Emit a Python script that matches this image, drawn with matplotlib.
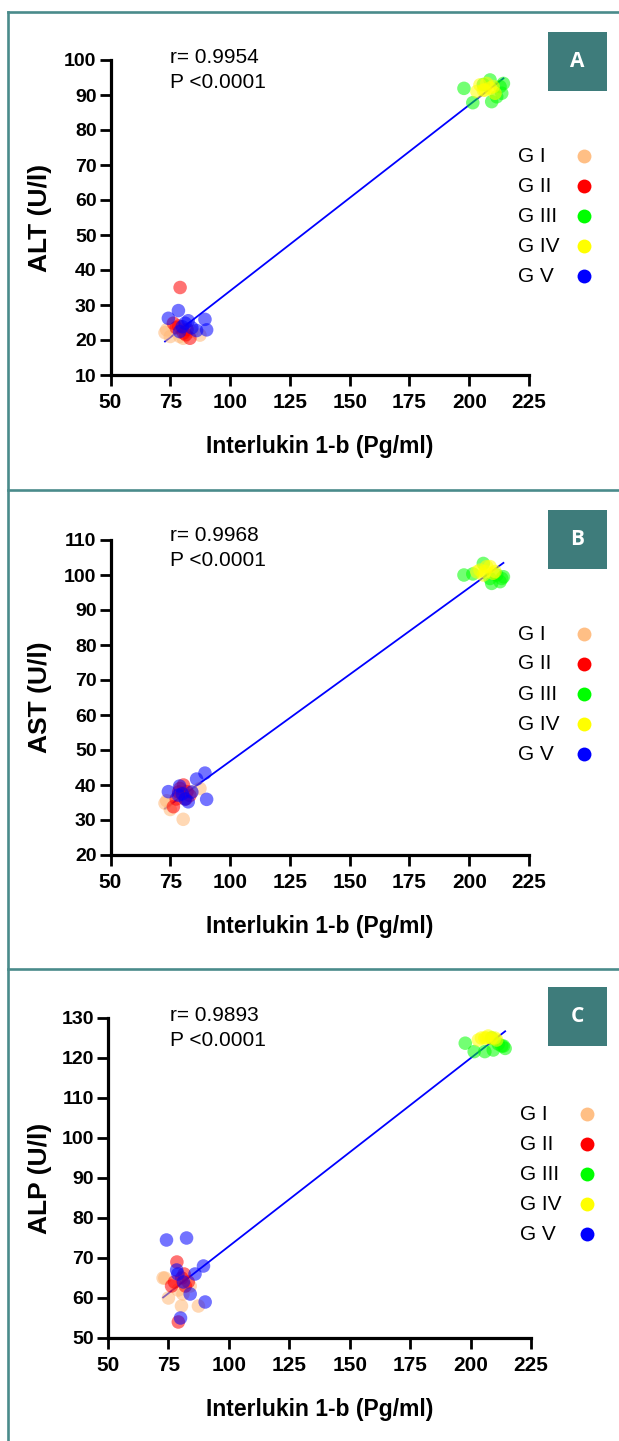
import matplotlib
matplotlib.use("Agg")
import matplotlib.pyplot as plt
import numpy as np
from matplotlib.lines import Line2D
from matplotlib.patches import Rectangle

plt.rcParams['font.family'] = ['Liberation Sans', 'DejaVu Sans']

groups = ["G I", "G II", "G III", "G IV", "G V"]
colors = ["#ffb877", "#ff0000", "#00ff00", "#ffff00", "#0000ff"]
legend_colors = ["#ffbf85", "#ff0000", "#00ff00", "#ffff00", "#0000ff"]

# Interlukin 1-b (Pg/ml), same subjects in all three panels
il_g1 = [72.8, 73.5, 75.0, 79.0, 80.4, 81.0, 84.0, 87.4]
il_g2 = [76.3, 77.5, 78.5, 79.1, 80.5, 82.0, 83.2, 81.5]
il_g3 = [197.8, 201.5, 205.9, 208.7, 209.4, 211.5, 212.9, 214.3, 213.6]
il_g4 = [203.2, 204.5, 205.9, 206.6, 207.3, 208.7, 210.0, 210.8]
il_g5 = [74.2, 78.4, 78.9, 81.2, 82.5, 84.0, 86.0, 89.5, 90.2, 80.0]

# ALT (U/l)
alt_g1 = [22.1, 22.9, 21.0, 21.0, 20.5, 22.0, 22.5, 21.4]
alt_g2 = [24.8, 23.5, 24.0, 35.0, 22.0, 23.0, 20.5, 21.5]
alt_g3 = [91.9, 87.8, 93.0, 94.3, 88.1, 89.5, 92.4, 93.3, 90.5]
alt_g4 = [91.0, 92.9, 91.4, 91.4, 93.3, 92.0, 92.4, 90.5]
alt_g5 = [26.2, 28.4, 22.4, 24.8, 25.5, 23.5, 22.7, 25.9, 22.9, 23.8]

# AST (U/l)
ast_g1 = [34.8, 35.5, 33.0, 37.0, 30.2, 36.0, 38.0, 39.0]
ast_g2 = [33.8, 36.0, 38.0, 39.0, 40.0, 38.1, 37.0, 36.0]
ast_g3 = [100.0, 100.3, 103.3, 99.0, 97.6, 100.0, 98.1, 99.5, 99.0]
ast_g4 = [100.9, 101.4, 100.0, 101.0, 102.4, 102.4, 100.5, 101.0]
ast_g5 = [38.1, 37.1, 39.7, 36.0, 35.2, 38.0, 41.7, 43.4, 35.9, 37.5]

# ALP (U/l)
alp_g1 = [65.0, 65.0, 60.0, 62.0, 58.0, 61.0, 63.0, 58.0]
alp_g2 = [63.0, 64.0, 69.0, 54.0, 65.0, 63.0, 64.0, 66.0]
alp_g3 = [123.7, 121.6, 121.6, 125.0, 122.0, 123.5, 123.0, 122.4, 123.0]
alp_g4 = [124.5, 125.0, 125.0, 125.0, 125.5, 125.0, 125.0, 124.5]
alp_g5 = [74.5, 67.0, 66.0, 64.0, 75.0, 61.0, 66.0, 68.0, 59.0, 55.0]

W, H = 619, 1441
fig = plt.figure(figsize=(W / 100, H / 100), dpi=100)
teal = "#4a8b8b"
box_teal = "#3e7c7b"


def fx(px):
    return px / W


def fy(py):
    return 1 - py / H


# frame lines
for y in [12, 490, 969]:
    fig.add_artist(Line2D([fx(8), 1], [fy(y), fy(y)], color=teal, lw=1.9))
fig.add_artist(Line2D([fx(8), fx(8)], [fy(12), 0], color=teal, lw=1.9))

panels = [
    dict(ylab="ALT (U/l)", ys=[alt_g1, alt_g2, alt_g3, alt_g4, alt_g5], r="r= 0.9954",
         x0=110.5, x1=529, top=60, bot=375, ylim=(10, 100), off=0, letter="A", leg_x=518, mk_x=584),
    dict(ylab="AST (U/l)", ys=[ast_g1, ast_g2, ast_g3, ast_g4, ast_g5], r="r= 0.9968",
         x0=110.5, x1=529, top=540, bot=855, ylim=(20, 110), off=478, letter="B", leg_x=518, mk_x=584),
    dict(ylab="ALP (U/l)", ys=[alp_g1, alp_g2, alp_g3, alp_g4, alp_g5], r="r= 0.9893",
         x0=108, x1=531, top=1018, bot=1338, ylim=(50, 130), off=958, letter="C", leg_x=520, mk_x=587),
]
xs = [il_g1, il_g2, il_g3, il_g4, il_g5]

for p in panels:
    ax = fig.add_axes([fx(p["x0"]), fy(p["bot"]), (p["x1"] - p["x0"]) / W, (p["bot"] - p["top"]) / H])
    allx = np.concatenate([np.array(v) for v in xs])
    ally = np.concatenate([np.array(v) for v in p["ys"]])
    k, b = np.polyfit(allx, ally, 1)
    lx = np.array([allx.min(), allx.max()])
    ax.plot(lx, k * lx + b, color="#0000ff", lw=1.3, zorder=1)
    for x, y, c in zip(xs, p["ys"], colors):
        ax.scatter(x, y, s=95, color=c, alpha=0.55, edgecolors="none", zorder=2, clip_on=False)
    ax.set_xlim(50, 225)
    ax.set_ylim(*p["ylim"])
    ax.set_xticks(np.arange(50, 226, 25))
    ax.set_yticks(np.arange(p["ylim"][0], p["ylim"][1] + 1, 10))
    for s in ["top", "right"]:
        ax.spines[s].set_visible(False)
    for s in ["left", "bottom"]:
        ax.spines[s].set_linewidth(2.3)
    ax.tick_params(axis="both", width=2.0, length=8)
    ax.tick_params(axis="x", pad=5, labelsize=15)
    ax.tick_params(axis="y", pad=2, labelsize=14)
    for t in ax.get_xticklabels() + ax.get_yticklabels():
        t.set_fontweight("bold")
    ax.patch.set_alpha(0)

    off = p["off"]
    fig.text(fx(40), fy((p["top"] + p["bot"]) / 2), p["ylab"], rotation=90, ha="center", va="center",
             fontsize=19, fontweight="bold")
    fig.text(fx((p["x0"] + p["x1"]) / 2), fy(p["bot"] + 78), "Interlukin 1-b (Pg/ml)", ha="center",
             va="baseline", fontsize=16.5, fontweight="bold")
    fig.text(fx(170), fy(63 + off), p["r"], ha="left", va="baseline", fontsize=15)
    fig.text(fx(170), fy(88 + off), "P <0.0001", ha="left", va="baseline", fontsize=15)

    by = 32 + off if p["letter"] != "C" else 987
    fig.add_artist(Rectangle((fx(548), fy(by + 59)), 59 / W, 59 / H, facecolor=box_teal, edgecolor="none"))
    fig.text(fx(577.5), fy(by + 29.5), p["letter"], color="white", ha="center", va="center",
             fontsize=15, fontweight="bold", family=["Open Sans", "DejaVu Sans"])

    ly0 = 156 + off if p["letter"] != "C" else 1114
    for i, (g, c) in enumerate(zip(groups, legend_colors)):
        yy = ly0 + 30 * i
        fig.text(fx(p["leg_x"]), fy(yy), g, ha="left", va="center", fontsize=15)
        fig.add_artist(Line2D([fx(p["mk_x"])], [fy(yy)], marker="o", markersize=10, color=c,
                              markeredgecolor="none", linestyle="none"))

fig.savefig("out.png", dpi=100)
